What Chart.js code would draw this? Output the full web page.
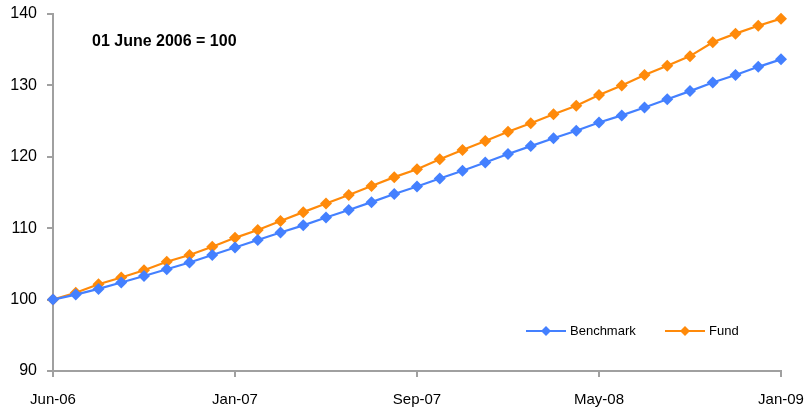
<!DOCTYPE html>
<html>
<head>
<meta charset="utf-8">
<script src="https://cdn.jsdelivr.net/npm/chart.js@4"></script>
<style>
  html, body { margin: 0; padding: 0; background: #fff; }
  #wrap { width: 806px; height: 409px; }
</style>
</head>
<body>
<div id="wrap"><canvas id="lineChart" width="806" height="409"></canvas></div>
<script>
// first point is 01 Jun 2006, the rest are month ends
const months = [
  'Jun-06', 'Jun-06', 'Jul-06', 'Aug-06', 'Sep-06', 'Oct-06', 'Nov-06', 'Dec-06',
  'Jan-07', 'Feb-07', 'Mar-07', 'Apr-07', 'May-07', 'Jun-07', 'Jul-07', 'Aug-07',
  'Sep-07', 'Oct-07', 'Nov-07', 'Dec-07', 'Jan-08', 'Feb-08', 'Mar-08', 'Apr-08',
  'May-08', 'Jun-08', 'Jul-08', 'Aug-08', 'Sep-08', 'Oct-08', 'Nov-08', 'Dec-08',
  'Jan-09'
]

const benchmark = [
  100, 100.7, 101.5, 102.4, 103.3, 104.25, 105.2, 106.25, 107.3, 108.35,
  109.4, 110.4, 111.5, 112.55, 113.65, 114.8, 115.85, 116.95, 118.05, 119.2,
  120.4, 121.5, 122.6, 123.65, 124.8, 125.8, 126.9, 128.05, 129.2, 130.4,
  131.45, 132.6, 133.65
]

const fund = [
  100, 100.95, 102.15, 103.1, 104.1, 105.3, 106.25, 107.4, 108.65, 109.75,
  111.0, 112.25, 113.45, 114.65, 115.9, 117.15, 118.25, 119.65, 120.95, 122.2,
  123.5, 124.7, 125.95, 127.15, 128.65, 130.0, 131.45, 132.75, 134.1, 136.05,
  137.25, 138.35, 139.35
]

const yTicks = [90, 100, 110, 120, 130, 140]

const blue = '#4480ff'
const orange = '#ff8a0a'
const axisGrey = '#a0a0a0'

const notePlugin = {
  id: 'note',
  afterDraw (chart) {
    const ctx = chart.ctx
    ctx.save()
    ctx.fillStyle = '#000'
    ctx.font = 'bold 16px "Liberation Sans", Arial, sans-serif'
    ctx.textBaseline = 'middle'
    ctx.fillText('01 June 2006 = 100', 92, 42)

    // legend inside the plot, bottom right
    const items = [
      { text: 'Benchmark', color: blue, x: 526 },
      { text: 'Fund', color: orange, x: 665 }
    ]
    const y = 331
    ctx.font = '13px "Liberation Sans", Arial, sans-serif'
    items.forEach(it => {
      ctx.strokeStyle = it.color
      ctx.lineWidth = 2
      ctx.beginPath()
      ctx.moveTo(it.x, y)
      ctx.lineTo(it.x + 40, y)
      ctx.stroke()
      ctx.fillStyle = it.color
      ctx.beginPath()
      ctx.moveTo(it.x + 20, y - 5)
      ctx.lineTo(it.x + 25, y)
      ctx.lineTo(it.x + 20, y + 5)
      ctx.lineTo(it.x + 15, y)
      ctx.closePath()
      ctx.fill()
      ctx.fillStyle = '#000'
      ctx.fillText(it.text, it.x + 44, y)
    })
    ctx.restore()
  }
}

const series = (label, data, color) => ({
  label,
  data,
  borderColor: color,
  backgroundColor: color,
  borderWidth: 2.2,
  pointStyle: 'rectRot',
  pointRadius: 6,
  pointHoverRadius: 6,
  pointBorderWidth: 0,
  tension: 0,
  clip: false
})

new Chart(document.getElementById('lineChart').getContext('2d'), {
  type: 'line',
  data: {
    labels: months,
    datasets: [
      series('Benchmark', benchmark, blue),
      series('Fund', fund, orange)
    ]
  },
  options: {
    animation: false,
    responsive: false,
    layout: { padding: { top: 14, right: 25, left: 0, bottom: 0 } },
    plugins: {
      legend: { display: false },
      tooltip: { enabled: false }
    },
    scales: {
      x: {
        type: 'category',
        offset: false,
        afterFit (scale) {
          scale.height = 38
          scale.paddingLeft = 0
          scale.paddingRight = 0
        },
        grid: {
          drawOnChartArea: false,
          drawTicks: true,
          tickLength: 6,
          color: axisGrey,
          lineWidth: 2
        },
        border: { color: axisGrey, width: 2 },
        ticks: {
          autoSkip: false,
          maxRotation: 0,
          padding: 14,
          color: '#000',
          font: { family: '"Liberation Sans", Arial, sans-serif', size: 15 },
          callback (value, index) {
            return index % 8 === 0 ? months[index] : null
          }
        }
      },
      y: {
        min: yTicks[0],
        max: yTicks[yTicks.length - 1],
        afterFit (scale) {
          scale.width = 53
          scale.paddingTop = 0
          scale.paddingBottom = 0
        },
        afterBuildTicks (scale) { scale.ticks = yTicks.map(v => ({ value: v })) },
        grid: {
          drawOnChartArea: false,
          drawTicks: true,
          tickLength: 6,
          color: axisGrey,
          lineWidth: 2
        },
        border: { color: axisGrey, width: 2 },
        ticks: {
          padding: 10,
          color: '#000',
          font: { family: '"Liberation Sans", Arial, sans-serif', size: 16 }
        }
      }
    }
  },
  plugins: [notePlugin]
})
</script>
</body>
</html>
